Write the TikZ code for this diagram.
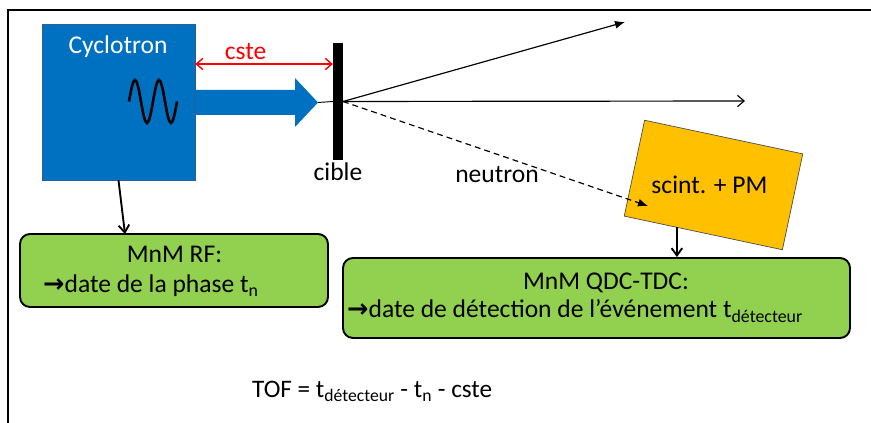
\documentclass[tikz,border=0pt]{standalone}
\usepackage{fontspec}
\setmainfont{Carlito}
\newfontfamily\flechefont{DejaVu Sans Bold}
\usetikzlibrary{calc,arrows.meta}
\definecolor{cycbleu}{HTML}{0070C0}
\definecolor{cycbord}{HTML}{2E5F92}
\definecolor{pmjaune}{HTML}{FFC000}
\definecolor{mnmvert}{HTML}{92D050}
\newcommand{\fleche}{{\flechefont\char"2192}}
\tikzset{
	txt/.style={font=\fontsize{21.8}{26}\selectfont, anchor=base, inner sep=0pt},
	boite/.style={draw=black, line width=1.6pt, fill=mnmvert, rounded corners=3mm, inner sep=0pt},
	diffus/.style={line width=1pt, -{Latex[length=3mm,width=2.4mm]}},
	lien/.style={line width=1.6pt, -{Straight Barb[length=2.2mm,width=3.2mm]}},
}
\begin{document}
\begin{tikzpicture}[x=0.3mm, y=-0.3mm]
	\useasboundingbox (0,0) rectangle (871,423);
	\draw[line width=1.7pt] (8,423) -- (8,10) -- (871,10); %cadre
	% faisceau
	\fill[cycbleu] (195,90) -- (295,90) -- (295,78) -- (318,102.5) -- (295,127) -- (295,115) -- (195,115) -- cycle;
	\node[draw=cycbord, fill=cycbleu, minimum width=45.9mm, minimum height=46.8mm, inner sep=0pt] (cyclo) at (118.5,102) {};
	\node[txt, white] (cyctxt) at (118,54) {Cyclotron};
	\draw[line width=2.2pt] (129,101.5) sin (135,80) cos (141,101.5) sin (147,123) cos (153,101.5)
		sin (159,80) cos (165,101.5) sin (171,123) cos (177,101.5); %RF
	% cible
	\node[fill=black, minimum width=3mm, minimum height=35.1mm, inner sep=0pt, outer sep=0pt] (cible) at (338,101.5) {};
	\node[txt] (cibletxt) at (338,181) {cible};
	\coordinate (pointe) at (318,102.5);
	\draw[line width=0.8pt] (pointe) -- (cible.west);
	% cste
	\coordinate (cstey) at (0,64);
	\draw[red, line width=1.2pt, {Straight Barb[length=2mm,width=3.4mm]}-{Straight Barb[length=2mm,width=3.4mm]}] (cyclo.east |- cstey) -- (cible.west |- cstey);
	\node[txt, red] (cstetxt) at (245.5,60) {cste};
	% detecteur
	\node[draw=black!70, line width=0.6pt, fill=pmjaune, rotate=-12, minimum width=48.5mm, minimum height=29.4mm, inner sep=0pt, outer sep=0pt] (det) at (713.5,185) {};
	\node[txt] (pmtxt) at (709.5,194) {scint. + PM};
	% particules
	\coordinate (haut) at (625,22);
	\coordinate (droite) at (745,101);
	\coordinate (impact) at (648,206);
	\draw[diffus] (cible.east) -- (haut);
	\draw[line width=1pt, -{Straight Barb[length=2mm,width=3.4mm]}] (cible.east) -- (droite);
	\draw[diffus, dash pattern=on 5pt off 3.5pt] (cible.east) -- (impact);
	\node[txt] (neutxt) at (497,183) {neutron};
	% MnM
	\node[boite, minimum width=92.4mm, minimum height=21.9mm] (rf) at (174,270.5) {};
	\node[txt] (rf1) at (174.5,263) {MnM RF:};
	\node[txt, anchor=base west] (rf2) at (43,293) {\fleche date de la phase t\textsubscript{n}};
	\node[boite, minimum width=152.1mm, minimum height=24mm] (qdc) at (596.5,298) {};
	\node[txt] (qdc1) at (606,290) {MnM QDC-TDC:};
	\node[txt, anchor=base west] (qdc2) at (347,318) {\fleche date de détection de l’événement t\textsubscript{détecteur}};
	\coordinate (rfin) at (125,234);
	\draw[lien] (cyclo.south) -- (rfin);
	\coordinate (detpied) at ($(det.south west)!0.333!(det.south east)$);
	\draw[lien] (detpied) -- (detpied |- qdc.north);
	% TOF
	\node[txt, anchor=base west, font=\fontsize{21.5}{26}\selectfont] (tof) at (252,398) {TOF = t\textsubscript{détecteur} - t\textsubscript{n} - cste};
\end{tikzpicture}
\end{document}
